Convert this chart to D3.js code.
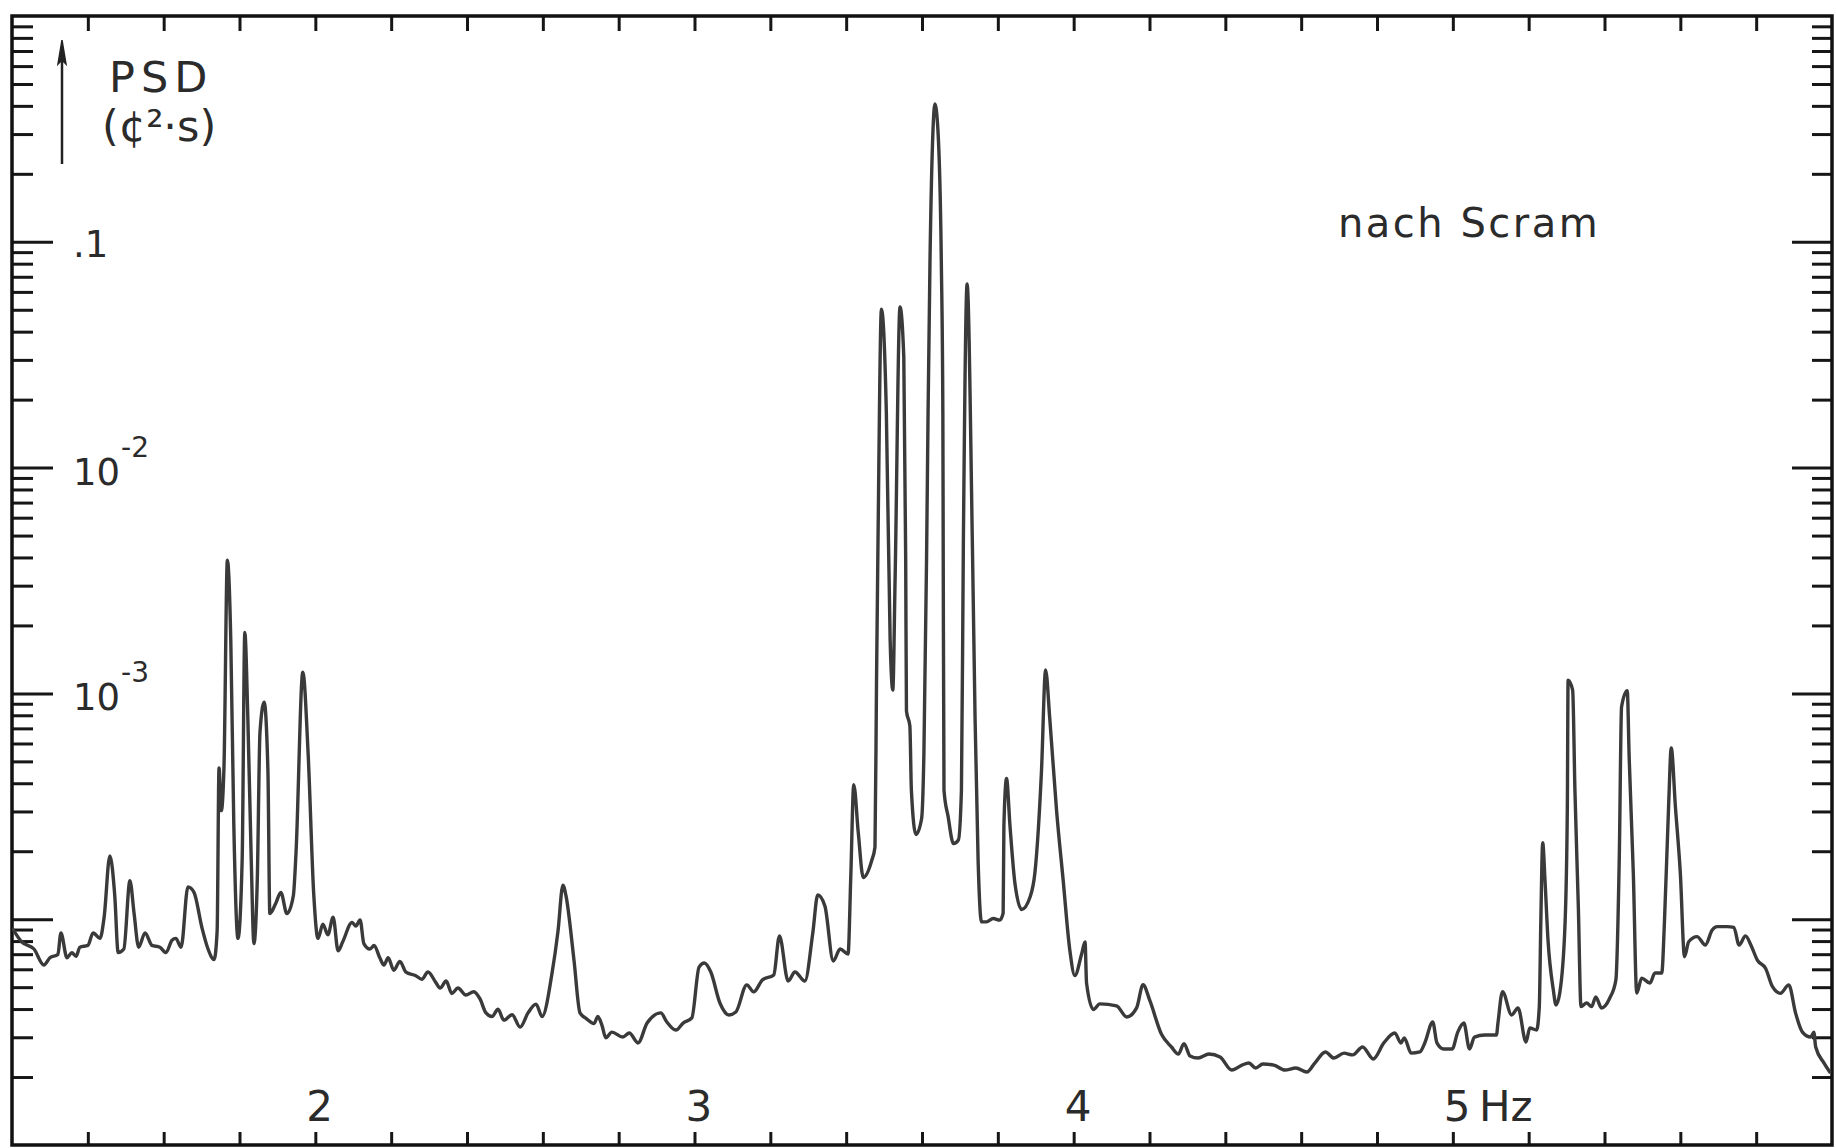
<!DOCTYPE html>
<html>
<head>
<meta charset="utf-8">
<script src="https://cdn.jsdelivr.net/npm/d3@7"></script>
<style>
  body { margin: 0; background: #fff; }
  svg text { font-family: "DejaVu Sans", sans-serif; fill: #2b2b2b; }
</style>
</head>
<body>
<svg class="psd-chart"></svg>
<script>
// frequency (Hz)
var freq = [
  1.200,1.226,1.258,1.284,1.300,1.321,1.329,1.345,1.358,1.369,
  1.379,1.400,1.414,1.432,1.443,1.458,1.471,1.480,1.495,1.511,
  1.522,1.534,1.551,1.569,1.590,1.606,1.622,1.632,1.646,1.664,
  1.680,1.701,1.717,1.733,1.741,1.746,1.752,1.759,1.768,1.777,
  1.785,1.796,1.807,1.814,1.822,1.831,1.838,1.847,1.854,1.865,
  1.875,1.880,1.896,1.909,1.925,1.942,1.949,1.967,1.981,1.996,
  2.007,2.020,2.033,2.047,2.060,2.072,2.097,2.107,2.118,2.128,
  2.144,2.155,2.170,2.181,2.192,2.207,2.223,2.239,2.265,2.281,
  2.297,2.318,2.329,2.345,2.360,2.376,2.397,2.418,2.434,2.450,
  2.466,2.482,2.497,2.519,2.540,2.561,2.582,2.598,2.624,2.640,
  2.653,2.661,2.682,2.698,2.714,2.735,2.745,2.756,2.766,2.782,
  2.811,2.828,2.851,2.875,2.911,2.927,2.951,2.970,2.993,3.012,
  3.026,3.043,3.067,3.091,3.109,3.138,3.156,3.179,3.209,3.224,
  3.247,3.265,3.291,3.312,3.325,3.344,3.366,3.384,3.405,3.412,
  3.420,3.432,3.445,3.467,3.476,3.480,3.484,3.493,3.506,3.516,
  3.523,3.529,3.542,3.552,3.557,3.559,3.568,3.572,3.584,3.599,
  3.605,3.612,3.616,3.621,3.629,3.634,3.642,3.651,3.655,3.656,
  3.658,3.669,3.683,3.696,3.704,3.709,3.719,3.733,3.740,3.748,
  3.757,3.770,3.788,3.805,3.814,3.816,3.823,3.832,3.845,3.863,
  3.885,3.898,3.915,3.926,3.937,3.955,3.972,3.990,4.003,4.021,
  4.030,4.034,4.052,4.069,4.113,4.140,4.166,4.183,4.201,4.232,
  4.258,4.276,4.291,4.307,4.328,4.357,4.386,4.417,4.444,4.462,
  4.480,4.499,4.528,4.557,4.586,4.615,4.636,4.664,4.686,4.713,
  4.736,4.762,4.790,4.818,4.847,4.863,4.872,4.890,4.913,4.926,
  4.947,4.958,4.976,4.998,5.013,5.029,5.044,5.057,5.084,5.115,
  5.119,5.131,5.155,5.172,5.193,5.203,5.221,5.228,5.232,5.237,
  5.243,5.251,5.265,5.272,5.282,5.296,5.302,5.304,5.316,5.322,
  5.331,5.338,5.353,5.366,5.377,5.392,5.414,5.430,5.439,5.445,
  5.460,5.465,5.476,5.485,5.498,5.520,5.533,5.551,5.558,5.569,
  5.576,5.587,5.600,5.611,5.622,5.644,5.666,5.684,5.697,5.724,
  5.741,5.755,5.772,5.786,5.803,5.825,5.843,5.864,5.886,5.904,
  5.922,5.944,5.952,5.957,5.979,5.996
];

// PSD as decimal exponent (PSD = 10^value)
var psdExp = [
  -4.038,-4.101,-4.132,-4.203,-4.171,-4.156,-4.061,-4.171,-4.148,-4.164,
  -4.124,-4.116,-4.061,-4.085,-3.991,-3.720,-3.896,-4.148,-4.132,-3.830,
  -3.975,-4.124,-4.061,-4.116,-4.124,-4.148,-4.093,-4.085,-4.124,-3.857,
  -3.881,-4.038,-4.132,-4.179,-4.053,-3.330,-3.519,-3.330,-2.410,-2.764,
  -3.582,-4.085,-3.739,-2.730,-3.110,-3.739,-4.108,-3.818,-3.173,-3.039,
  -3.346,-3.975,-3.928,-3.881,-3.975,-3.896,-3.708,-2.906,-3.267,-3.896,
  -4.085,-4.022,-4.069,-3.991,-4.140,-4.101,-4.014,-4.030,-4.003,-4.108,
  -4.132,-4.116,-4.171,-4.203,-4.171,-4.226,-4.187,-4.234,-4.250,-4.266,
  -4.234,-4.281,-4.305,-4.274,-4.329,-4.305,-4.336,-4.321,-4.352,-4.415,
  -4.431,-4.399,-4.447,-4.423,-4.478,-4.415,-4.376,-4.431,-4.242,-4.053,
  -3.849,-3.896,-4.179,-4.415,-4.439,-4.462,-4.431,-4.470,-4.525,-4.500,
  -4.522,-4.504,-4.548,-4.460,-4.415,-4.455,-4.491,-4.460,-4.437,-4.212,
  -4.194,-4.234,-4.371,-4.424,-4.411,-4.291,-4.322,-4.269,-4.247,-4.074,
  -4.274,-4.234,-4.274,-4.061,-3.893,-3.942,-4.185,-4.132,-4.154,-3.822,
  -3.404,-3.618,-3.815,-3.742,-3.680,-2.954,-2.321,-1.298,-1.758,-2.764,
  -2.985,-2.500,-1.289,-1.510,-2.409,-3.078,-3.144,-3.428,-3.625,-3.554,
  -3.268,-2.409,-1.758,-1.094,-0.505,-0.390,-0.505,-1.094,-1.758,-2.409,
  -3.428,-3.547,-3.665,-3.649,-3.428,-2.352,-1.187,-2.352,-3.112,-3.742,
  -4.012,-4.012,-3.997,-4.004,-3.973,-3.586,-3.377,-3.586,-3.840,-3.957,
  -3.902,-3.791,-3.348,-2.896,-3.112,-3.521,-3.822,-4.139,-4.250,-4.154,
  -4.101,-4.283,-4.400,-4.375,-4.384,-4.433,-4.393,-4.290,-4.361,-4.511,
  -4.566,-4.597,-4.551,-4.606,-4.615,-4.597,-4.610,-4.668,-4.646,-4.637,
  -4.659,-4.641,-4.646,-4.668,-4.659,-4.677,-4.637,-4.588,-4.615,-4.593,
  -4.601,-4.566,-4.619,-4.548,-4.504,-4.548,-4.526,-4.593,-4.588,-4.548,
  -4.455,-4.548,-4.575,-4.575,-4.500,-4.460,-4.575,-4.522,-4.513,-4.513,
  -4.460,-4.321,-4.424,-4.393,-4.544,-4.482,-4.491,-4.389,-4.017,-3.661,
  -3.826,-4.092,-4.313,-4.380,-4.327,-4.017,-3.502,-2.941,-2.985,-3.428,
  -3.945,-4.387,-4.371,-4.387,-4.344,-4.393,-4.349,-4.269,-3.723,-3.059,
  -2.988,-3.280,-3.796,-4.327,-4.261,-4.283,-4.238,-4.238,-4.017,-3.502,
  -3.242,-3.502,-3.796,-4.166,-4.100,-4.077,-4.114,-4.048,-4.033,-4.033,
  -4.036,-4.114,-4.074,-4.114,-4.181,-4.218,-4.299,-4.328,-4.291,-4.416,
  -4.500,-4.522,-4.500,-4.566,-4.637,-4.681
];

var xTickValues = [2, 3, 4, 5];
var xTickLabels = ["2", "3", "4", "5\u2009Hz"];
var yTickValues = [0.1, 0.01, 0.001];
var yTickBase = [".1", "10", "10"];
var yTickSup = ["", "-2", "-3"];
var yMajor = [1e-4, 1e-3, 1e-2, 1e-1];
var xDomain = [1.2, 6.0];
var yDomain = [1e-5, 1];
var noteText = "nach Scram";

var margin = {top: 16, right: 4, bottom: 3, left: 12},
    width = 1836 - margin.left - margin.right,
    height = 1148 - margin.top - margin.bottom;

var svg = d3.select(".psd-chart")
    .attr("width", width + margin.left + margin.right)
    .attr("height", height + margin.top + margin.bottom)
  .append("g")
    .attr("transform", "translate(" + margin.left + "," + margin.top + ")");

var x = d3.scaleLinear().domain(xDomain).range([0, width]);
var y = d3.scaleLog().domain(yDomain).range([height, 0]);

var data = freq.map(function(f, i) {
  return {f: f, p: Math.pow(10, psdExp[i])};
});

// minor log ticks 2..9 in every decade
var yMinor = [];
d3.range(-5, 0).forEach(function(e) {
  d3.range(2, 10).forEach(function(k) { yMinor.push(k * Math.pow(10, e)); });
});
var xMinor = d3.range(7, 30).map(function(i) { return i / 5; });

function tickStyle(g) {
  g.select(".domain").remove();
  g.selectAll(".tick line").attr("stroke", "#161616").attr("stroke-width", 3);
}

svg.append("g").call(d3.axisLeft(y).tickValues(yMajor).tickSize(-41).tickFormat("")).call(tickStyle);
svg.append("g").call(d3.axisLeft(y).tickValues(yMinor).tickSize(-21).tickFormat("")).call(tickStyle);

svg.append("g").attr("transform", "translate(" + width + ",0)")
    .call(d3.axisRight(y).tickValues(yMajor).tickSize(-40).tickFormat("")).call(tickStyle);
svg.append("g").attr("transform", "translate(" + width + ",0)")
    .call(d3.axisRight(y).tickValues(yMinor).tickSize(-20).tickFormat("")).call(tickStyle);

svg.append("g").attr("transform", "translate(0," + height + ")")
    .call(d3.axisBottom(x).tickValues(xMinor).tickSize(-13).tickFormat("")).call(tickStyle);
svg.append("g")
    .call(d3.axisTop(x).tickValues(xMinor).tickSize(-15).tickFormat("")).call(tickStyle);

svg.append("rect")
    .attr("width", width)
    .attr("height", height)
    .attr("fill", "none")
    .attr("stroke", "#111")
    .attr("stroke-width", 3.5);

svg.append("clipPath").attr("id", "plot-clip")
  .append("rect").attr("width", width).attr("height", height);

var valueline = d3.line()
    .curve(d3.curveMonotoneX)
    .x(function(d) { return x(d.f); })
    .y(function(d) { return y(d.p); });

svg.append("path")
    .datum(data)
    .attr("clip-path", "url(#plot-clip)")
    .attr("fill", "none")
    .attr("stroke", "#3a3a3a")
    .attr("stroke-width", 3.4)
    .attr("stroke-linejoin", "round")
    .attr("d", valueline);

// y tick labels
yTickValues.forEach(function(v, i) {
  var t = svg.append("text")
      .attr("x", 61)
      .attr("y", y(v) + (yTickSup[i] ? 17 : 15))
      .style("font-size", "37px")
      .text(yTickBase[i]);
  if (yTickSup[i]) {
    t.append("tspan")
        .attr("dx", 1)
        .attr("dy", -28)
        .style("font-size", "28px")
        .text(yTickSup[i]);
  }
});

// x tick labels
xTickValues.forEach(function(v, i) {
  svg.append("text")
      .attr("x", x(v) - 9)
      .attr("y", height - 24)
      .style("font-size", "42px")
      .text(xTickLabels[i]);
});

// axis title with arrow
svg.append("line")
    .attr("x1", 50).attr("x2", 50)
    .attr("y1", 148).attr("y2", 40)
    .attr("stroke", "#222").attr("stroke-width", 2.5);
svg.append("path")
    .attr("d", "M50,24 L46,48 L50,44 L54,48 Z")
    .attr("fill", "#222").attr("stroke", "#222").attr("stroke-width", 1.5);

svg.append("text")
    .attr("x", 97).attr("y", 76)
    .style("font-size", "43px")
    .style("letter-spacing", "6px")
    .text("PSD");
svg.append("text")
    .attr("x", 90).attr("y", 125)
    .style("font-size", "43px")
    .text("(\u00a2\u00b2\u00b7s)");

svg.append("text")
    .attr("x", 1326).attr("y", 221)
    .style("font-size", "40px")
    .style("letter-spacing", "2.5px")
    .text(noteText);
</script>
</body>
</html>
